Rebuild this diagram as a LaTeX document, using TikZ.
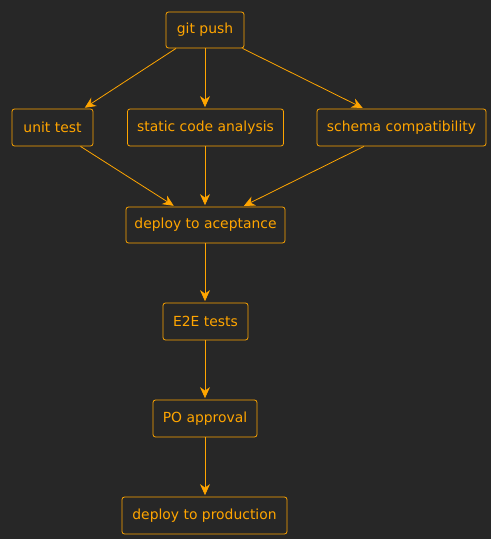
\documentclass[tikz,border=0pt]{standalone}
\usepackage{fontspec}
\setmainfont{DejaVu Sans}
\usetikzlibrary{arrows.meta,calc}
\definecolor{bg}{HTML}{272727}
\definecolor{orng}{HTML}{FFA500}
\tikzset{
  box/.style={draw=orng, line width=0.8pt, rounded corners=2.5pt, text=orng,
    font=\fontsize{13.9}{16}\selectfont, inner sep=0pt, anchor=center},
  conn/.style={draw=orng, line width=0.8pt, shorten >=1.5pt,
    -{Stealth[length=11pt,width=10pt,inset=3.5pt]}}
}
\begin{document}
\begin{tikzpicture}[x=1pt,y=-1pt]
\fill[bg] (0,0) rectangle (491,539);
\useasboundingbox (0,0) rectangle (491,539);
\node[box, minimum width=78pt, minimum height=36pt] (push) at (205,30) {git push};
\node[box, minimum width=81pt, minimum height=37pt] (unit) at (52.5,127.5) {unit test};
\node[box, minimum width=156pt, minimum height=37pt] (static) at (205.5,127.5) {static code analysis};
\node[box, minimum width=169pt, minimum height=37pt] (schema) at (401.5,127.5) {schema compatibility};
\node[box, minimum width=159pt, minimum height=36pt] (accept) at (205.5,225) {deploy to aceptance};
\node[box, minimum width=85pt, minimum height=37pt] (e2e) at (205.5,321.5) {E2E tests};
\node[box, minimum width=104pt, minimum height=37pt] (po) at (205,418.5) {PO approval};
\node[box, minimum width=165pt, minimum height=37pt] (prod) at (204.5,515.5) {deploy to production};
\draw[conn] ($(push.south)+(-29,0)$) -- ($(unit.north)+(31,0)$);
\draw[conn] (push.south) -- (push.south |- static.north);
\draw[conn] ($(push.south)+(37.5,0)$) -- ($(schema.north)+(-37.5,0)$);
\draw[conn] ($(unit.south)+(28,0)$) -- ($(accept.north)+(-30.5,0)$);
\draw[conn] (static.south -| push.south) -- (push.south |- accept.north);
\draw[conn] ($(schema.south)+(-37.5,0)$) -- ($(accept.north)+(37,0)$);
\draw[conn] (push.south |- accept.south) -- (push.south |- e2e.north);
\draw[conn] (push.south |- e2e.south) -- (push.south |- po.north);
\draw[conn] (push.south |- po.south) -- (push.south |- prod.north);
\end{tikzpicture}
\end{document}
